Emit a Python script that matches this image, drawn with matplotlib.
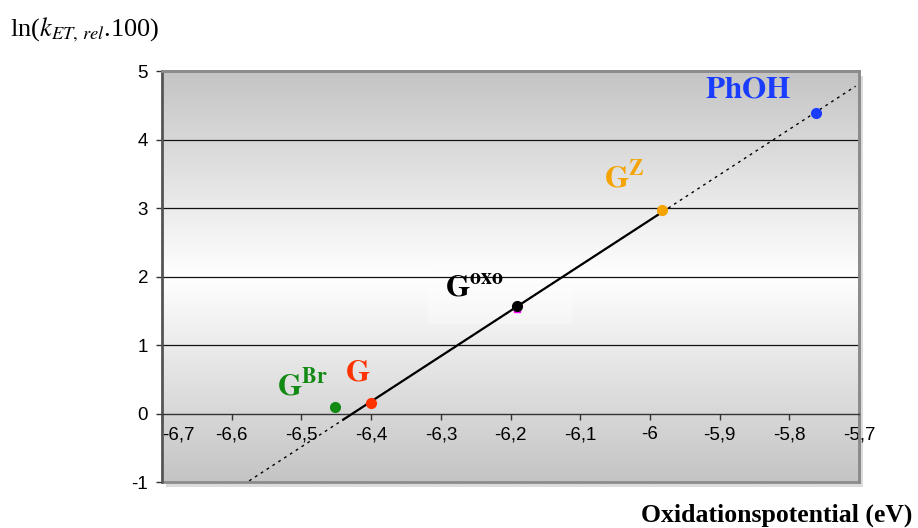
import numpy as np
import matplotlib
matplotlib.use("Agg")
import matplotlib.pyplot as plt
from matplotlib.patches import Rectangle
from matplotlib.colors import LinearSegmentedColormap

# Oxidation potentials (eV) and ln(k_ET,rel * 100) per nucleobase / reference compound
names = ["PhOH", "GZ", "Goxo", "G", "GBr"]
potential = [-5.762, -5.982, -6.191, -6.400, -6.452]
ln_k = [4.38, 2.97, 1.57, 0.16, 0.10]
colors = ["#1a3cff", "#f5a300", "#000000", "#ff3300", "#138a13"]
labels = [r"$\mathbf{PhOH}$", r"$\mathbf{G^{Z}}$", r"$\mathbf{G^{oxo}}$",
          r"$\mathbf{G}$", r"$\mathbf{G^{Br}}$"]
label_pos = [(-5.859, 4.73), (-6.037, 3.44), (-6.252, 1.83), (-6.419, 0.60), (-6.499, 0.41)]

# Points used for the linear trend
fit_names = ["PhOH", "GZ", "Goxo", "G"]
solid_range = [-6.44, -5.982]
dotted_range = [-6.60, -5.705]

xticks = [-6.7, -6.6, -6.5, -6.4, -6.3, -6.2, -6.1, -6.0, -5.9, -5.8, -5.7]
xtick_labels = ["-6,7", "-6,6", "-6,5", "-6,4", "-6,3", "-6,2", "-6,1", "-6", "-5,9", "-5,8", "-5,7"]
yticks = [-1, 0, 1, 2, 3, 4, 5]

plt.rcParams["mathtext.fontset"] = "stix"
plt.rcParams["font.family"] = ["Liberation Sans", "DejaVu Sans"]

fig = plt.figure(figsize=(9.18, 5.28), dpi=100)
ax = fig.add_axes([0.1765, 0.0871, 0.7593, 0.7784])
ax.set_xlim(-6.7, -5.7)
ax.set_ylim(-1, 5)

# drop shadow behind the plot area
shadow = Rectangle((0.006, -0.012), 1.0, 1.0, transform=ax.transAxes,
                   facecolor="#dcdcdc", edgecolor="none", zorder=-2, clip_on=False)
ax.add_patch(shadow)

# vertical gray-white-gray gradient fill
cmap = LinearSegmentedColormap.from_list("bg", ["#c4c4c4", "#ffffff", "#c4c4c4"])
grad = np.linspace(0, 1, 256).reshape(-1, 1)
ax.imshow(grad, cmap=cmap, aspect="auto", extent=[0, 1, 0, 1],
          transform=ax.transAxes, zorder=-1)
ax.patch.set_visible(False)

# light panel behind the Goxo label
ax.add_patch(Rectangle((-6.318, 1.30), 0.206, 0.91, facecolor="white",
                       edgecolor="none", alpha=0.3, zorder=0))

# horizontal gridlines
for yv in [1, 2, 3, 4]:
    ax.axhline(yv, color="#111111", lw=0.9, zorder=1)

# trend line
fx = np.array([potential[names.index(n)] for n in fit_names])
fy = np.array([ln_k[names.index(n)] for n in fit_names])
slope, intercept = np.polyfit(fx, fy, 1)
xd = np.array(dotted_range)
ax.plot(xd, slope * xd + intercept, color="black", lw=1.0, ls=(0, (2, 3)), zorder=2)
xs = np.array(solid_range)
ax.plot(xs, slope * xs + intercept, color="black", lw=1.6, zorder=3)

# data points
ax.plot(potential[2], ln_k[2] - 0.04, "s", color="#ff00ff", ms=5, zorder=3.5)
for x, y, c in zip(potential, ln_k, colors):
    ax.plot(x, y, "o", color=c, ms=7, mec=c, zorder=4)

for (lx, ly), t, c in zip(label_pos, labels, colors):
    ax.text(lx, ly, t, color=c, fontsize=22.5, ha="center", va="center", zorder=5)

# axes styling
ax.spines["bottom"].set_position(("data", 0))
ax.spines["bottom"].set_color("#333333")
ax.spines["bottom"].set_linewidth(1.0)
ax.spines["left"].set_color("#555555")
ax.spines["left"].set_linewidth(1.8)
ax.spines["top"].set_color("#8c8c8c")
ax.spines["top"].set_linewidth(2.0)
ax.spines["right"].set_color("#8c8c8c")
ax.spines["right"].set_linewidth(2.0)
ax.add_patch(Rectangle((0, 0), 1, 1, transform=ax.transAxes, facecolor="none",
                       edgecolor="#8c8c8c", lw=2.0, zorder=0.5, clip_on=False))

ax.set_xticks(xticks)
ax.set_xticklabels(xtick_labels)
ax.set_yticks(yticks)
ax.set_yticklabels([str(v) for v in yticks])
ax.tick_params(axis="x", direction="out", length=4, width=1, color="#333333",
               labelsize=13.5, pad=5)
ax.tick_params(axis="y", direction="out", length=4, width=1, color="#333333",
               labelsize=13.5, pad=6)
ax.get_xticklabels()[0].set_horizontalalignment("left")

fig.text(0.011, 0.943, r"ln($k_{ET,\,rel}$.100)", fontsize=19,
         family=["Liberation Serif"], ha="left", va="center")
fig.text(0.994, 0.024, "Oxidationspotential (eV)", fontsize=18.5, fontweight="bold",
         family=["Liberation Serif"], ha="right", va="center")

fig.savefig("out.png", dpi=100)
